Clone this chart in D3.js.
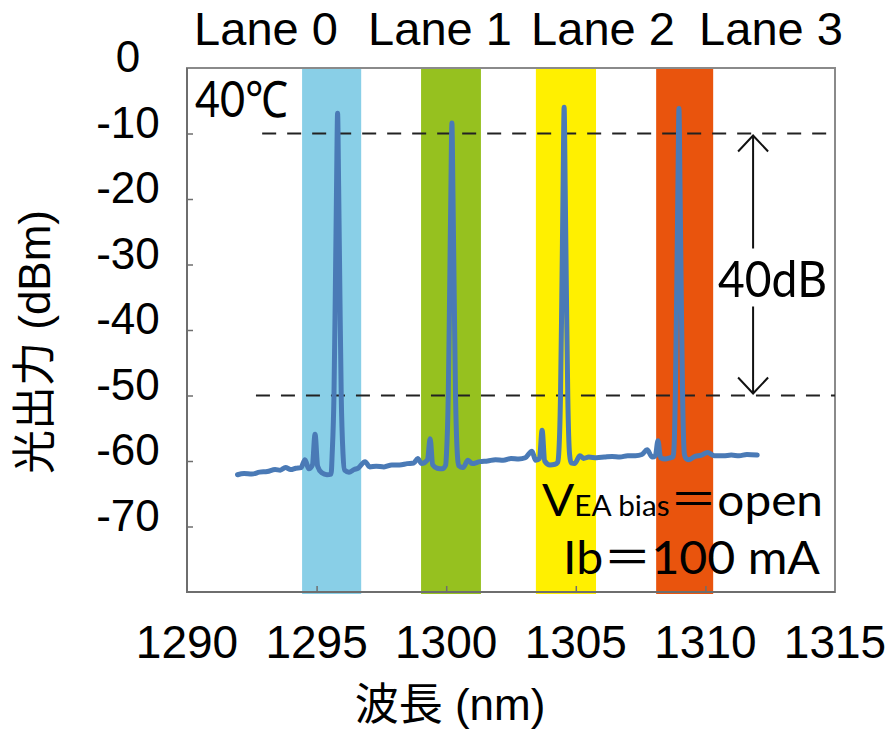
<!DOCTYPE html>
<html>
<head>
<meta charset="utf-8">
<script src="https://cdn.jsdelivr.net/npm/d3@7"></script>
<style>
  body { margin: 0; background: #fff; }
  svg { display: block; }
</style>
</head>
<body>
<div id="chart"></div>
<script>
// -----------------------------
// 1. DATA
// -----------------------------
const laneNames = ["Lane 0", "Lane 1", "Lane 2", "Lane 3"];
const laneStart = [1294.44, 1299.03, 1303.46, 1308.1];   // nm
const laneEnd   = [1296.72, 1301.34, 1305.78, 1310.3];   // nm
const laneColors = ["#89cfe7", "#96c11f", "#fff000", "#e9540d"];

const xTicks = [1290, 1295, 1300, 1305, 1310, 1315];
const yTicks = [0, -10, -20, -30, -40, -50, -60, -70];

const wavelength = [
  1291.95, 1292.2, 1292.5, 1292.8, 1293.1, 1293.4, 1293.6, 1293.8, 1294.0, 1294.2,
  1294.4, 1294.55, 1294.7, 1294.84, 1294.94, 1295.04, 1295.2, 1295.4, 1295.56,
  1295.6, 1295.67, 1295.72, 1295.77, 1295.81, 1295.85, 1295.9, 1295.95, 1296.02, 1296.08,
  1296.25, 1296.45, 1296.6, 1296.87, 1297.05, 1297.3, 1297.6, 1297.9, 1298.2, 1298.5, 1298.75,
  1298.9, 1299.05, 1299.28, 1299.38, 1299.48, 1299.65, 1299.85, 1299.98,
  1300.01, 1300.08, 1300.13, 1300.18, 1300.22, 1300.26, 1300.31, 1300.36, 1300.43, 1300.48,
  1300.65, 1300.84, 1301.0, 1301.3, 1301.6, 1301.9, 1302.2, 1302.5, 1302.8, 1303.05,
  1303.31, 1303.45, 1303.6, 1303.7, 1303.8, 1304.0, 1304.2, 1304.3,
  1304.34, 1304.41, 1304.46, 1304.51, 1304.55, 1304.59, 1304.64, 1304.69, 1304.76, 1304.82,
  1304.95, 1305.16, 1305.3, 1305.5, 1305.8, 1306.1, 1306.4, 1306.7, 1307.0, 1307.3, 1307.55,
  1307.75, 1307.95, 1308.07, 1308.17, 1308.27, 1308.45, 1308.65, 1308.74,
  1308.77, 1308.84, 1308.89, 1308.94, 1308.98, 1309.02, 1309.07, 1309.12, 1309.19, 1309.25,
  1309.35, 1309.6, 1309.85, 1310.08, 1310.35, 1310.7, 1311.0, 1311.3, 1311.6, 1312.0
];
const power = [
  -62.1, -61.9, -62.0, -61.7, -61.6, -61.3, -61.4, -61.0, -61.3, -61.1,
  -61.0, -59.8, -61.2, -60.6, -55.9, -60.8, -61.8, -62.1, -62.0,
  -59.0, -50.0, -35.0, -18.0, -6.9, -18.0, -35.0, -50.0, -59.0, -61.4,
  -61.7, -61.3, -61.1, -60.1, -60.9, -60.8, -60.9, -60.6, -60.6, -60.4, -60.3,
  -59.6, -60.4, -59.8, -56.6, -60.6, -61.1, -61.2, -60.6,
  -59.0, -50.0, -35.0, -19.0, -8.4, -19.0, -35.0, -50.0, -59.0, -60.7,
  -61.0, -59.9, -60.4, -60.1, -60.0, -59.8, -59.9, -59.6, -59.7, -59.5,
  -58.5, -59.9, -59.6, -55.3, -60.0, -60.6, -60.5, -60.2,
  -59.0, -50.0, -35.0, -18.0, -6.0, -18.0, -35.0, -50.0, -59.0, -60.3,
  -60.4, -59.2, -59.6, -59.4, -59.5, -59.4, -59.3, -59.4, -59.2, -59.2, -59.0,
  -58.3, -59.4, -59.2, -56.9, -59.5, -59.7, -59.5, -59.4,
  -59.0, -50.0, -35.0, -18.0, -6.2, -18.0, -35.0, -50.0, -59.0, -59.6,
  -59.8, -59.3, -59.1, -58.7, -59.2, -59.2, -59.1, -59.2, -59.0, -59.1
];

const refLevels = [-10, -50];
const refStart = [1292.9, 1292.66];

// -----------------------------
// 2. SVG SETUP
// -----------------------------
const width = 895, height = 730;
const plot = {left: 187, right: 835, top: 68, bottom: 592};
const latin = "'Liberation Sans', Arial, sans-serif";
const humanist = "Lato, 'Noto Sans', 'Noto Sans CJK JP', sans-serif";

const svg = d3.select("#chart").append("svg")
    .attr("width", width)
    .attr("height", height);

// -----------------------------
// 3. SCALES
// -----------------------------
const x = d3.scaleLinear().domain([1290, 1315]).range([plot.left, plot.right]);
const y = d3.scaleLinear().domain([0, -80]).range([plot.top, plot.bottom]);

// -----------------------------
// 4. LANE BANDS
// -----------------------------
svg.selectAll(".lane")
    .data(laneNames)
    .enter().append("rect")
    .attr("class", "lane")
    .attr("x", (d, i) => x(laneStart[i]))
    .attr("width", (d, i) => x(laneEnd[i]) - x(laneStart[i]))
    .attr("y", plot.top)
    .attr("height", plot.bottom - plot.top + 2)
    .attr("fill", (d, i) => laneColors[i]);

const laneLabelX = [266, 440, 603, 771];
svg.selectAll(".lane-label")
    .data(laneNames)
    .enter().append("text")
    .attr("x", (d, i) => laneLabelX[i])
    .attr("y", 45)
    .attr("text-anchor", "middle")
    .style("font-family", latin)
    .style("font-size", "47px")
    .text(d => d);

// -----------------------------
// 5. FRAME & AXES
// -----------------------------
svg.append("rect")
    .attr("x", plot.left).attr("y", plot.top)
    .attr("width", plot.right - plot.left)
    .attr("height", plot.bottom - plot.top)
    .attr("fill", "none")
    .attr("stroke", "#8a8a8a")
    .attr("stroke-width", 2);

svg.append("path")
    .attr("d", `M${plot.left},${plot.top}V${plot.bottom}H${plot.right}`)
    .attr("fill", "none")
    .attr("stroke", "#6e6e6e")
    .attr("stroke-width", 2);

const yAxis = d3.axisRight(y).tickValues(yTicks.slice(1)).tickSize(6).tickFormat("");
svg.append("g")
    .attr("transform", `translate(${plot.left},0)`)
    .call(yAxis)
    .call(g => g.select(".domain").remove())
    .call(g => g.selectAll("line").attr("stroke", "#6e6e6e").attr("stroke-width", 1.5));

const xAxis = d3.axisTop(x).tickValues(xTicks.slice(1, -1)).tickSize(6).tickFormat("");
svg.append("g")
    .attr("transform", `translate(0,${plot.bottom})`)
    .call(xAxis)
    .call(g => g.select(".domain").remove())
    .call(g => g.selectAll("line").attr("stroke", "#6e6e6e").attr("stroke-width", 1.5));

svg.selectAll(".ylab")
    .data(yTicks)
    .enter().append("text")
    .attr("x", 128)
    .attr("y", d => y(d) + 4)
    .attr("text-anchor", "middle")
    .style("font-family", latin)
    .style("font-size", "44px")
    .text(d => d);

svg.selectAll(".xlab")
    .data(xTicks)
    .enter().append("text")
    .attr("x", d => x(d))
    .attr("y", 658)
    .attr("text-anchor", "middle")
    .style("font-family", latin)
    .style("font-size", "46px")
    .text(d => d);

svg.append("text")
    .attr("transform", "translate(50,342) rotate(-90)")
    .attr("text-anchor", "middle")
    .style("font-family", latin + ", 'Noto Sans CJK JP'")
    .style("font-size", "44px")
    .text("光出力 (dBm)");

svg.append("text")
    .attr("x", 450)
    .attr("y", 720)
    .attr("text-anchor", "middle")
    .style("font-family", latin + ", 'Noto Sans CJK JP'")
    .style("font-size", "44px")
    .text("波長 (nm)");

// -----------------------------
// 6. REFERENCE LINES & ARROW
// -----------------------------
svg.selectAll(".ref")
    .data(refLevels)
    .enter().append("line")
    .attr("x1", (d, i) => x(refStart[i]))
    .attr("x2", plot.right)
    .attr("y1", d => y(d))
    .attr("y2", d => y(d))
    .attr("stroke", "#222")
    .attr("stroke-width", 2.2)
    .attr("stroke-dasharray", "14,11");

const ax = x(1311.84);
const yTop = y(-10) + 2, yBot = y(-50) - 2;
svg.append("path")
    .attr("d", `M${ax},${yTop}V${yTop + 113}M${ax},${yBot - 87}V${yBot}` +
               `M${ax - 15},${yTop + 16}L${ax},${yTop}L${ax + 15},${yTop + 16}` +
               `M${ax - 15},${yBot - 16}L${ax},${yBot}L${ax + 15},${yBot - 16}`)
    .attr("fill", "none")
    .attr("stroke", "#111")
    .attr("stroke-width", 2);

// -----------------------------
// 7. SPECTRUM
// -----------------------------
const pts = wavelength.map((w, i) => [w, power[i]]);
svg.append("path")
    .datum(pts)
    .attr("d", d3.line().x(d => x(d[0])).y(d => y(d[1])).curve(d3.curveMonotoneX))
    .attr("fill", "none")
    .attr("stroke", "#4a7ab6")
    .attr("stroke-width", 5)
    .attr("stroke-linejoin", "round")
    .attr("stroke-linecap", "round");

// -----------------------------
// 8. ANNOTATIONS
// -----------------------------
svg.append("text")
    .attr("x", 195).attr("y", 117)
    .attr("textLength", 93).attr("lengthAdjust", "spacingAndGlyphs")
    .style("font-family", humanist)
    .style("font-size", "50px")
    .text("40℃");

svg.append("text")
    .attr("x", 718).attr("y", 297)
    .attr("textLength", 109).attr("lengthAdjust", "spacingAndGlyphs")
    .style("font-family", humanist)
    .style("font-size", "50px")
    .text("40dB");

const vea = svg.append("text")
    .attr("x", 542).attr("y", 516)
    .attr("textLength", 281).attr("lengthAdjust", "spacingAndGlyphs")
    .style("font-family", humanist);
vea.append("tspan").style("font-size", "45px").text("V");
vea.append("tspan").style("font-size", "28px").text("EA bias");
vea.append("tspan").style("font-size", "45px").text("＝open");

svg.append("text")
    .attr("x", 563).attr("y", 574)
    .attr("textLength", 257).attr("lengthAdjust", "spacingAndGlyphs")
    .style("font-family", humanist)
    .style("font-size", "47px")
    .text("Ib＝100 mA");
</script>
</body>
</html>
